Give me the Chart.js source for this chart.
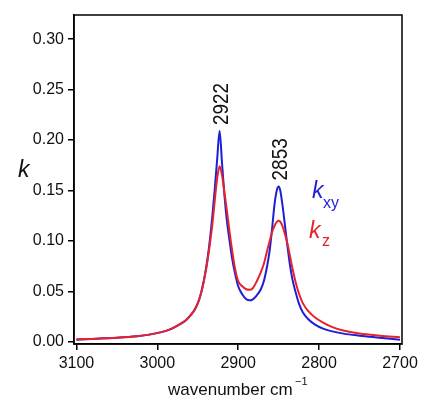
<!DOCTYPE html>
<html>
<head>
<meta charset="utf-8">
<script src="https://cdn.jsdelivr.net/npm/chart.js@4/dist/chart.umd.min.js"></script>
<style>
  html, body { margin: 0; padding: 0; background: #fff; }
  #wrap { width: 427px; height: 400px; }
</style>
</head>
<body>
<div id="wrap"><canvas id="spectrum"></canvas></div>
<script>
// wavenumber grid (cm-1) and absorption index for the two polarizations
var wavenumbers = [3100, 3075, 3050, 3025, 3010, 2995, 2985, 2975, 2965, 2957,
  2953, 2950, 2947, 2944, 2941, 2938, 2935, 2932, 2929, 2926,
  2923, 2920, 2917, 2914, 2911, 2908, 2904, 2900, 2895, 2890,
  2886, 2882, 2877, 2872, 2868, 2864, 2861, 2858, 2855, 2852,
  2850, 2848, 2845, 2842, 2839, 2836, 2833, 2829, 2825, 2820,
  2813, 2805, 2795, 2785, 2770, 2750, 2725, 2700];

var kxy = [0.002, 0.003, 0.004, 0.0055, 0.007, 0.0095, 0.012, 0.016, 0.021, 0.028,
  0.033, 0.038, 0.045, 0.055, 0.067, 0.082, 0.101, 0.124, 0.151, 0.181,
  0.209, 0.177, 0.145, 0.120, 0.102, 0.085, 0.068, 0.055, 0.047, 0.042,
  0.041, 0.042, 0.046, 0.052, 0.061, 0.076, 0.091, 0.113, 0.137, 0.151,
  0.154, 0.150, 0.134, 0.114, 0.094, 0.076, 0.062, 0.049, 0.038, 0.029,
  0.022, 0.017, 0.013, 0.0105, 0.008, 0.006, 0.004, 0.002];

var kz = [0.0025, 0.003, 0.004, 0.0055, 0.007, 0.0095, 0.012, 0.016, 0.021, 0.028,
  0.033, 0.038, 0.045, 0.054, 0.066, 0.080, 0.097, 0.116, 0.140, 0.162,
  0.174, 0.165, 0.148, 0.130, 0.111, 0.093, 0.073, 0.060, 0.055, 0.052,
  0.0515, 0.053, 0.060, 0.069, 0.078, 0.091, 0.100, 0.109, 0.115, 0.119,
  0.120, 0.119, 0.114, 0.106, 0.097, 0.085, 0.073, 0.059, 0.048, 0.038,
  0.030, 0.024, 0.019, 0.015, 0.011, 0.008, 0.006, 0.0045];

var xTicks = [3100, 3000, 2900, 2800, 2700];
var yTicks = [0, 0.05, 0.10, 0.15, 0.20, 0.25, 0.30];

// band positions written above the peaks
var peakLabels = ["2922", "2853"];
var peakPos = [2923, 2850];

var BLUE = "rgb(30,30,215)";
var RED = "rgb(230,35,45)";
var FONT = "'Liberation Sans', Arial, sans-serif";

function pts(ys){
  return wavenumbers.map(function(w, i){ return {x: w, y: ys[i]}; });
}

// frame, peak labels, axis titles and the k_xy / k_z keys
var decorations = {
  id: "decorations",
  afterDatasetsDraw: function(chart){
    var c = chart.ctx;
    var a = chart.chartArea;
    var xs = chart.scales.x, ys = chart.scales.y;
    c.save();
    c.strokeStyle = "#000";
    c.lineWidth = 1.5;
    c.strokeRect(a.left, a.top, a.right - a.left, a.bottom - a.top);

    // rotated peak labels
    c.fillStyle = "#111";
    c.font = "22px " + FONT;
    c.textAlign = "left";
    c.textBaseline = "middle";
    for (var i = 0; i < peakLabels.length; i++){
      var top = kxy[wavenumbers.indexOf(peakPos[i])];
      var px = xs.getPixelForValue(peakPos[i]) + 2;
      var py = ys.getPixelForValue(top) - 6;
      c.save();
      c.translate(px, py);
      c.rotate(-Math.PI / 2);
      c.scale(0.86, 1);
      c.fillText(peakLabels[i], 0, 0);
      c.restore();
    }

    // series keys
    c.textAlign = "left";
    c.textBaseline = "alphabetic";
    c.fillStyle = BLUE;
    c.font = "italic 23px " + FONT;
    c.fillText("k", 312, 198);
    c.font = "16px " + FONT;
    c.fillText("xy", 323, 208);
    c.fillStyle = RED;
    c.font = "italic 23px " + FONT;
    c.fillText("k", 309, 238);
    c.font = "16px " + FONT;
    c.fillText("z", 322, 246);

    // axis titles
    c.fillStyle = "#111";
    c.font = "italic 23px " + FONT;
    c.fillText("k", 18, 177);
    c.font = "17px " + FONT;
    c.fillText("wavenumber cm", 168, 395);
    c.font = "11px " + FONT;
    c.fillText("\u22121", 295, 385);
    c.restore();
  }
};

var config = {
  type: "line",
  data: {
    datasets: [{
      label: "kz",
      data: pts(kz),
      borderColor: RED,
      borderWidth: 2,
      pointRadius: 0,
      cubicInterpolationMode: "monotone",
      fill: false
    },
    {
      label: "kxy",
      data: pts(kxy),
      borderColor: BLUE,
      borderWidth: 2,
      pointRadius: 0,
      cubicInterpolationMode: "monotone",
      fill: false
    }]
  },
  options: {
    responsive: true,
    maintainAspectRatio: false,
    animation: false,
    layout: { padding: { left: 0, top: 15, right: 25, bottom: 0 } },
    plugins: {
      legend: { display: false },
      tooltip: { enabled: false }
    },
    scales: {
      x: {
        type: "linear",
        reverse: true,
        min: 2697.5,
        max: 3103,
        afterBuildTicks: function(s){ s.ticks = xTicks.map(function(v){ return {value: v}; }); },
        afterFit: function(s){ s.height = 56; },
        ticks: {
          color: "#111",
          font: { size: 16, family: FONT },
          padding: 4,
          maxRotation: 0,
          callback: function(v){ return String(v); }
        },
        grid: { drawOnChartArea: false, drawTicks: true, tickLength: 6, color: "#000", lineWidth: 1.5 },
        border: { display: true, color: "#000", width: 1.5 }
      },
      y: {
        type: "linear",
        min: -0.0023,
        max: 0.324,
        afterBuildTicks: function(s){ s.ticks = yTicks.map(function(v){ return {value: v}; }); },
        afterFit: function(s){ s.width = 74; },
        ticks: {
          color: "#111",
          font: { size: 16, family: FONT },
          padding: 4,
          callback: function(v){ return v.toFixed(2); }
        },
        grid: { drawOnChartArea: false, drawTicks: true, tickLength: 6, color: "#000", lineWidth: 1.5 },
        border: { display: true, color: "#000", width: 1.5 }
      }
    }
  },
  plugins: [decorations]
};

function makespectrum(){
  var ctx = document.getElementById("spectrum");
  var chart = new Chart(ctx, config);
  return chart;
}
makespectrum();
</script>
</body>
</html>
